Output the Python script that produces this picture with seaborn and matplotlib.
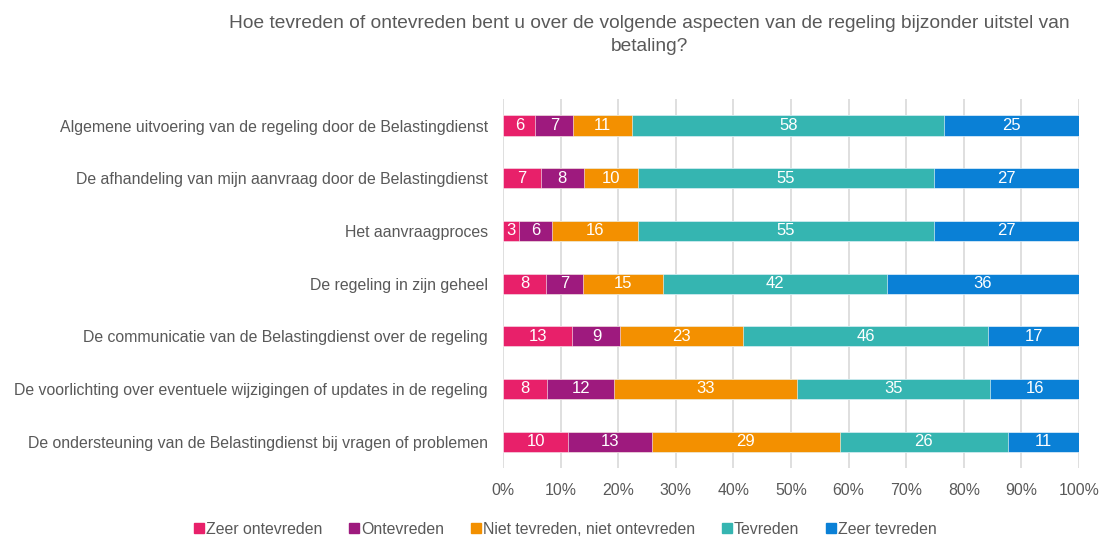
import numpy as np
import pandas as pd
import matplotlib
matplotlib.use("Agg")
import matplotlib.pyplot as plt
import seaborn as sns
from matplotlib.lines import Line2D

# Data
aspects = [
    "Algemene uitvoering van de regeling door de Belastingdienst",
    "De afhandeling van mijn aanvraag door de Belastingdienst",
    "Het aanvraagproces",
    "De regeling in zijn geheel",
    "De communicatie van de Belastingdienst over de regeling",
    "De voorlichting over eventuele wijzigingen of updates in de regeling",
    "De ondersteuning van de Belastingdienst bij vragen of problemen",
]
categories = ["Zeer ontevreden", "Ontevreden", "Niet tevreden, niet ontevreden",
              "Tevreden", "Zeer tevreden"]
zeer_ontevreden = [6, 7, 3, 8, 13, 8, 10]
ontevreden = [7, 8, 6, 7, 9, 12, 13]
neutraal = [11, 10, 16, 15, 23, 33, 29]
tevreden = [58, 55, 55, 42, 46, 35, 26]
zeer_tevreden = [25, 27, 27, 36, 17, 16, 11]

colors = ["#E8206A", "#9E1A7E", "#F39000", "#35B5B1", "#0A80D6"]

counts = np.array([zeer_ontevreden, ontevreden, neutraal, tevreden, zeer_tevreden], dtype=float).T
pct = counts / counts.sum(axis=1, keepdims=True) * 100
cum = np.cumsum(pct, axis=1)

plt.rcParams['font.family'] = ['Liberation Sans', 'DejaVu Sans']
fig = plt.figure(figsize=(11.01, 5.36), dpi=100)
ax = fig.add_axes([0.457, 0.127, 0.523, 0.688])

# overlapping cumulative bars, widest first
for i in range(len(categories) - 1, -1, -1):
    df = pd.DataFrame({"aspect": aspects, "value": cum[:, i]})
    sns.barplot(data=df, x="value", y="aspect", order=aspects, color=colors[i],
                saturation=1, width=0.38, ax=ax, orient="h",
                edgecolor="white", linewidth=0.4, zorder=3)

# segment labels
for r in range(len(aspects)):
    for i in range(len(categories)):
        start = cum[r, i] - pct[r, i]
        ax.text(start + pct[r, i] / 2, r, f"{int(counts[r, i])}", ha="center", va="center",
                color="white", fontsize=12, zorder=5)

ax.set_xlim(0, 100)
ax.set_ylim(6.5, -0.5)
ax.set_xticks(np.arange(0, 101, 10))
ax.set_xticklabels([f"{t}%" for t in range(0, 101, 10)])
ax.xaxis.grid(True, color="#D9D9D9", linewidth=1.2, zorder=0)
ax.set_axisbelow(True)
ax.set_xlabel("")
ax.set_ylabel("")
for s in ax.spines.values():
    s.set_visible(False)
ax.tick_params(axis="both", length=0, labelsize=11.4, colors="#595959")
ax.tick_params(axis="x", pad=11)
ax.tick_params(axis="y", pad=11)

fig.text(0.59, 0.972, "Hoe tevreden of ontevreden bent u over de volgende aspecten van de regeling bijzonder uitstel van\nbetaling?",
         ha="center", va="top", fontsize=13.8, color="#595959", linespacing=1.45)

handles = [Line2D([0], [0], marker="s", linestyle="", markersize=6.5, color=c) for c in colors]
fig.legend(handles, categories, loc="center", bbox_to_anchor=(0.513, 0.013), ncol=5,
           frameon=False, fontsize=11.4, handletextpad=0.05, columnspacing=1.6,
           labelcolor="#595959", handlelength=0.8)

fig.savefig("out.png", dpi=100)
